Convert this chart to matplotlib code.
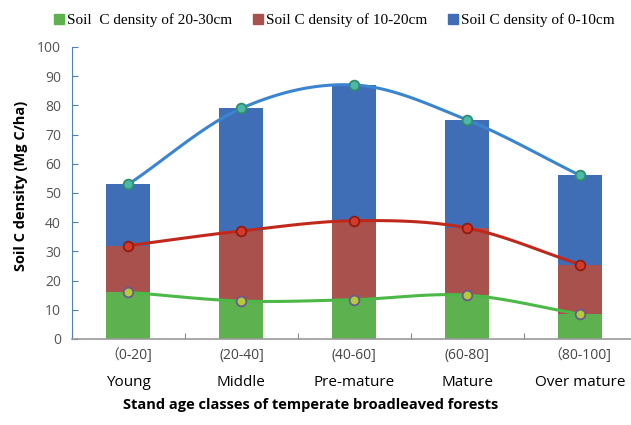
import numpy as np
import matplotlib
matplotlib.use("Agg")
import matplotlib.pyplot as plt
from matplotlib.lines import Line2D

# Data
age_ranges = ["（0-20]", "(20-40]", "(40-60]", "(60-80]", "（80-100]"]
age_names = ["Young", "Middle", "Pre-mature", "Mature", "Over mature"]
layer_20_30 = [16.0, 13.0, 13.5, 15.0, 8.5]
layer_10_20 = [16.0, 24.0, 27.0, 23.0, 17.0]
layer_0_10 = [21.0, 42.0, 46.5, 37.0, 30.5]
legend_labels = ["Soil  C density of 20-30cm", "Soil C density of 10-20cm", "Soil C density of 0-10cm"]

bar_colors = ["#5DB14F", "#A9514C", "#3F6EB7"]
line_colors = ["#4CB848", "#C0281C", "#3A84D0"]
marker_face = ["#B5C93A", "#D43A2A", "#4DB8A8"]
marker_edge = ["#6A5A8E", "#8E1C12", "#2F8F6A"]

SANS = ["Open Sans", "Noto Sans CJK SC", "DejaVu Sans"]


def catmull_rom(x, y, n=30):
    x = np.asarray(x, float); y = np.asarray(y, float)
    px = np.concatenate([[2 * x[0] - x[1]], x, [2 * x[-1] - x[-2]]])
    py = np.concatenate([[2 * y[0] - y[1]], y, [2 * y[-1] - y[-2]]])
    xs, ys = [], []
    t = np.linspace(0, 1, n)
    for i in range(1, len(px) - 2):
        for p, out in ((px, xs), (py, ys)):
            p0, p1, p2, p3 = p[i - 1], p[i], p[i + 1], p[i + 2]
            out.append(0.5 * ((2 * p1) + (-p0 + p2) * t + (2 * p0 - 5 * p1 + 4 * p2 - p3) * t ** 2
                              + (-p0 + 3 * p1 - 3 * p2 + p3) * t ** 3))
    return np.concatenate(xs), np.concatenate(ys)


fig = plt.figure(figsize=(6.31, 4.25), dpi=100)
ax = fig.add_axes([72 / 631, 1 - 339 / 425, (631 - 72) / 631, (339 - 47) / 425])

x = np.arange(len(age_names))
w = 0.39
layers = [np.array(layer_20_30), np.array(layer_10_20), np.array(layer_0_10)]
bottom = np.zeros(len(x))
cums = []
for vals, c in zip(layers, bar_colors):
    ax.bar(x, vals, w, bottom=bottom, color=c, zorder=2)
    bottom = bottom + vals
    cums.append(bottom.copy())

for cum, lc, mf, me in zip(cums, line_colors, marker_face, marker_edge):
    sx, sy = catmull_rom(x, cum)
    ax.plot(sx, sy, color=lc, lw=2.2, zorder=3, solid_capstyle="round")
    ax.plot(x, cum, ls="none", marker="o", ms=7, mfc=mf, mec=me, mew=1.3, zorder=4)

ax.set_xlim(-0.5, 4.45)
ax.set_ylim(0, 100)
ax.set_yticks(np.arange(0, 101, 10))
ax.tick_params(axis="y", direction="in", length=4, color="#4F81BD", labelsize=10,
               labelcolor="#555555", pad=8)
for lab in ax.get_yticklabels():
    lab.set_family(SANS)
ax.set_xticks(np.arange(-0.5, 4.5, 1.0))
ax.set_xticklabels([])
ax.tick_params(axis="x", direction="in", length=4, color="#888888")
for s in ["top", "right"]:
    ax.spines[s].set_visible(False)
ax.spines["left"].set_color("#4F81BD")
ax.spines["bottom"].set_color("#999999")
ax.spines["bottom"].set_linewidth(1.2)

for i in range(len(x)):
    ax.text(x[i], -5.5, age_ranges[i], ha="center", va="center", fontsize=10,
            color="#444444", family=SANS, clip_on=False)
    ax.text(x[i], -15.0, age_names[i], ha="center", va="center", fontsize=11,
            color="black", family=SANS, clip_on=False)

fig.text(311 / 631, 1 - 405 / 425, "Stand age classes of temperate broadleaved forests",
         ha="center", va="center", fontsize=10.5, fontweight="bold", family=SANS)
fig.text(21 / 631, 1 - 186 / 425, "Soil C density (Mg C/ha)", rotation=90,
         ha="center", va="center", fontsize=10.5, fontweight="bold", family=SANS)

handles = [Line2D([], [], ls="none", marker="s", ms=7, mfc=c, mec=c) for c in bar_colors]
fig.legend(handles, legend_labels, loc="center", bbox_to_anchor=(333 / 631, 1 - 20 / 425),
           ncol=3, frameon=False, prop={"family": "Liberation Serif", "size": 11},
           handletextpad=0.0, columnspacing=1.2, handlelength=1.0)

fig.savefig("out.png", dpi=100)
